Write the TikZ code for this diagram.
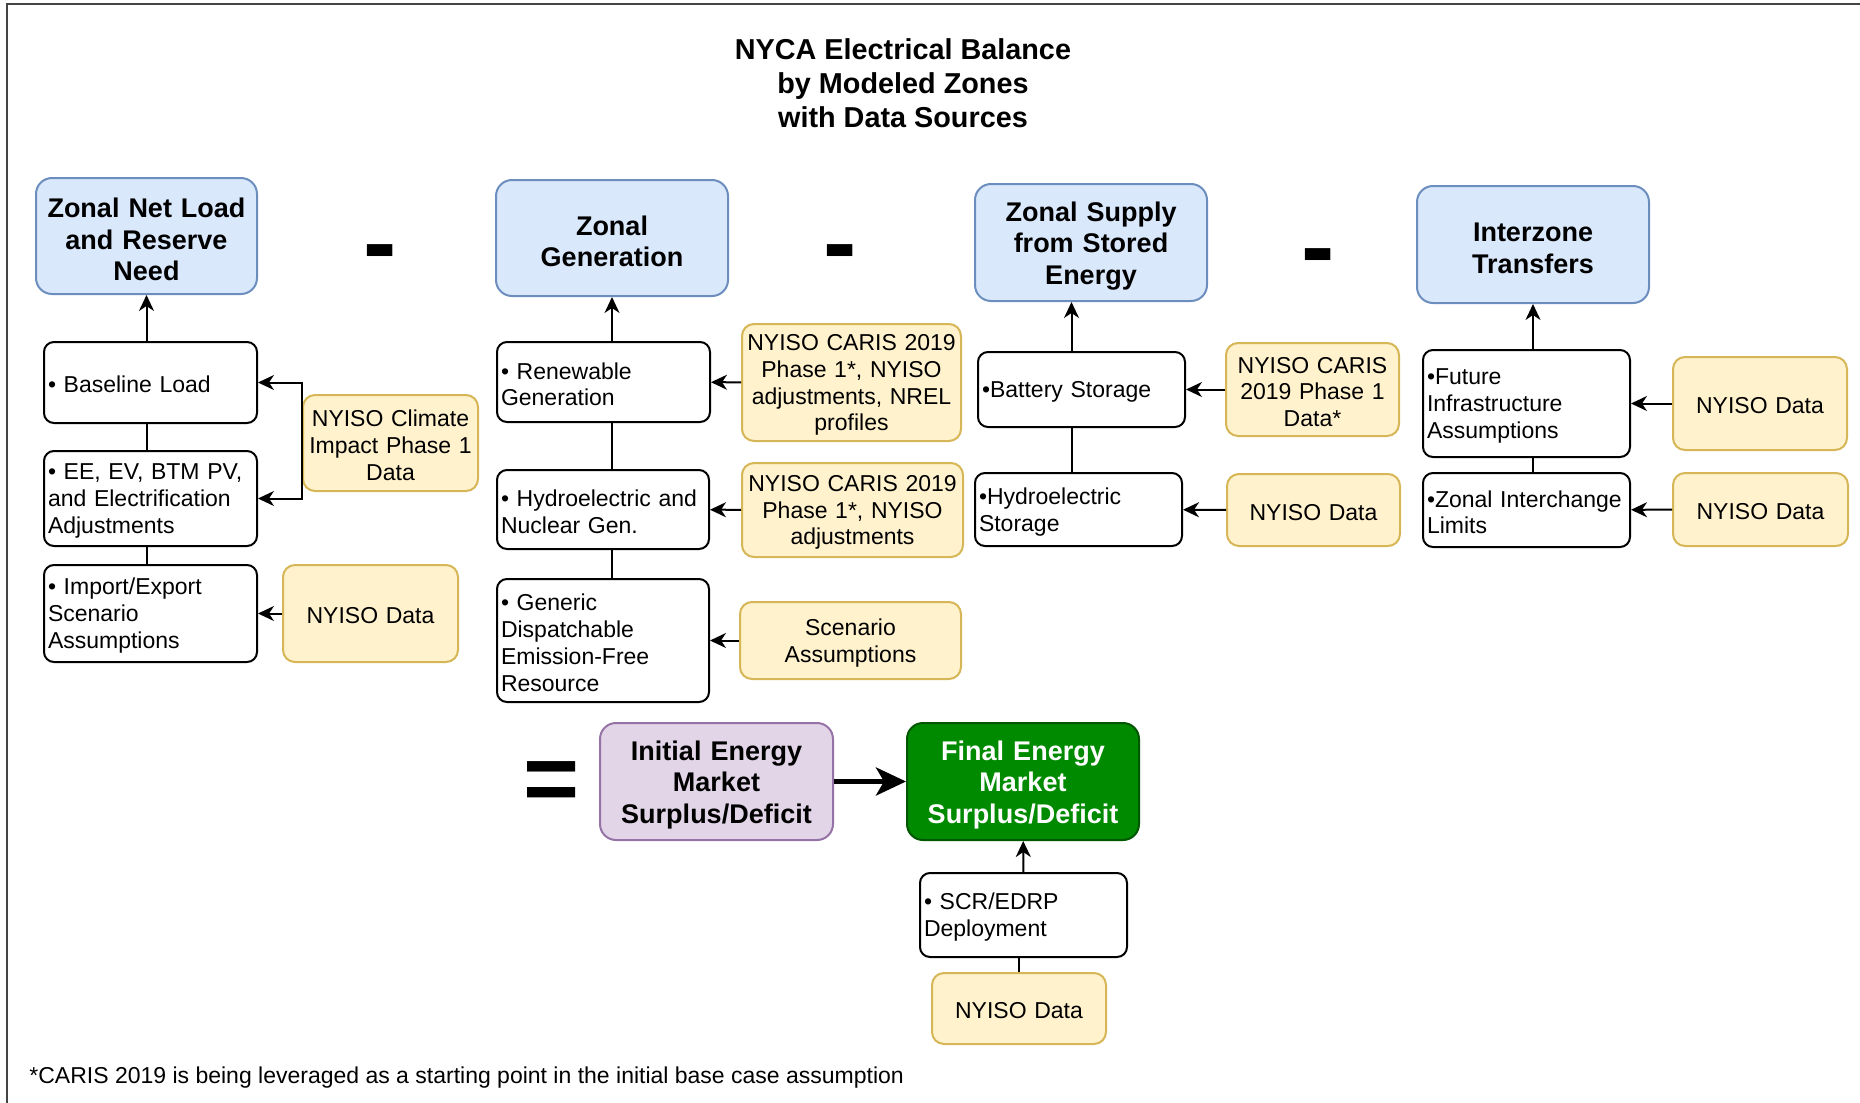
\documentclass[tikz,border=0pt]{standalone}
\usepackage{fontspec}
\setmainfont{Liberation Sans}
\usetikzlibrary{arrows.meta, positioning}
\definecolor{zoneBlue}{RGB}{218, 232, 252}
\definecolor{zoneBlueLine}{RGB}{108, 142, 191}
\definecolor{sourceYellow}{RGB}{255, 242, 204}
\definecolor{sourceYellowLine}{RGB}{214, 182, 86}
\definecolor{initPurple}{RGB}{225, 213, 231}
\definecolor{initPurpleLine}{RGB}{150, 115, 166}
\definecolor{finalGreen}{RGB}{0, 138, 0}
\definecolor{finalGreenLine}{RGB}{0, 87, 0}
\definecolor{frameGray}{RGB}{68, 68, 68}

\begin{document}
\begin{tikzpicture}[x=0.5pt, y=-0.5pt,
    zone/.style={draw=zoneBlueLine, fill=zoneBlue, line width=1pt, rounded corners=8pt, text width=112pt, minimum height=58.5pt, align=center, inner xsep=2pt, font=\fontsize{13.5}{15.8}\selectfont\bfseries, execute at begin node={\rule{0pt}{0.98em}}},
    item/.style={draw=black, fill=white, line width=1pt, rounded corners=5pt, align=left, inner xsep=2pt, inner ysep=2pt, font=\fontsize{11.5}{13.4}\selectfont, execute at begin node={\rule{0pt}{0.92em}}},
    source/.style={draw=sourceYellowLine, fill=sourceYellow, line width=1pt, rounded corners=6pt, text width=83pt, minimum height=36.5pt, align=center, inner xsep=2pt, inner ysep=2pt, font=\fontsize{11.5}{13.4}\selectfont, execute at begin node={\rule{0pt}{0.92em}}},
    sign/.style={anchor=base, inner sep=0pt, font=\fontsize{50}{50}\selectfont\bfseries},
    feed/.style={-{Stealth[length=8pt, width=7.5pt, inset=2.5pt]}, line width=1pt}]
    \useasboundingbox (0,0) rectangle (1860,1103);
    \draw[line width=1.2pt, frameGray] (7,1103) -- (7,4) -- (1860,4);

    % Title
    \node[align=center, font=\fontsize{14.4}{17}\selectfont\bfseries] (title) at (903,83) {NYCA Electrical Balance\\by Modeled Zones\\with Data Sources};

    % Zones
    \node[zone, text width=106.5pt, minimum height=58pt] (netload) at (146.5,236) {Zonal Net Load\\and Reserve\\Need};
    \node[zone, minimum height=58pt] (zonegen) at (612,238) {Zonal\\Generation};
    \node[zone] (supply) at (1091,242.5) {Zonal Supply\\from Stored\\Energy};
    \node[zone] (interzone) at (1533,244.5) {Interzone\\Transfers};

    % Signs between zones
    \node[sign] (minusA) at (380,276.5) {-};
    \node[sign] (minusB) at (840,276.5) {-};
    \node[sign] (minusC) at (1318,280.5) {-};

    % Net load inputs
    \node[item, text width=102.5pt, minimum height=40.5pt] (baseline) at (150.5,382.5) {• Baseline Load};
    \node[item, text width=102.5pt, minimum height=47.5pt] (adjust) at (150.5,498.5) {• EE, EV, BTM PV,\\and Electrification\\Adjustments};
    \node[item, text width=102.5pt, minimum height=48.5pt] (imports) at (150.5,613.5) {• Import/Export\\Scenario\\Assumptions};
    \node[source, text width=83.5pt, minimum height=48pt] (climate) at (390.5,443) {NYISO Climate\\Impact Phase 1\\Data};
    \node[source, text width=83.5pt, minimum height=48.5pt] (dataA) at (370.5,613.5) {NYISO Data};

    % Generation inputs
    \node[item, text width=102.5pt, minimum height=40pt] (renew) at (603.5,382) {• Renewable\\Generation};
    \node[item, text width=102pt, minimum height=39.5pt] (hydnuc) at (603,509.5) {• Hydroelectric and\\Nuclear Gen.};
    \node[item, text width=102pt, minimum height=61.5pt] (generic) at (603,640.5) {• Generic\\Dispatchable\\Emission-Free\\Resource};
    \node[source, text width=105.5pt, minimum height=58.5pt] (carisA) at (851.5,382.5) {NYISO CARIS 2019\\Phase 1*, NYISO\\adjustments, NREL\\profiles};
    \node[source, text width=106.5pt, minimum height=47pt] (carisB) at (852.5,510) {NYISO CARIS 2019\\Phase 1*, NYISO\\adjustments};
    \node[source, text width=106.5pt, minimum height=38.5pt] (scenario) at (850.5,640.5) {Scenario\\Assumptions};

    % Storage inputs
    \node[item, text width=99.5pt, minimum height=37.5pt] (battery) at (1081.5,389.5) {•Battery Storage};
    \node[item, text width=99.5pt, minimum height=36.5pt] (hydstor) at (1078.5,509.5) {•Hydroelectric\\Storage};
    \node[source, text width=82.5pt, minimum height=46.5pt] (carisC) at (1312.5,389.5) {NYISO CARIS\\2019 Phase 1\\Data*};
    \node[source, text width=82.5pt, minimum height=36pt] (dataB) at (1313.5,510) {NYISO Data};

    % Transfer inputs
    \node[item, text width=99.5pt, minimum height=53.5pt] (future) at (1526.5,403.5) {•Future\\Infrastructure\\Assumptions};
    \node[item, text width=99.5pt, minimum height=37pt] (interchange) at (1526.5,510) {•Zonal Interchange\\Limits};
    \node[source, minimum height=46.5pt] (dataC) at (1760,403.5) {NYISO Data};
    \node[source, text width=83.5pt] (dataD) at (1760.5,509.5) {NYISO Data};

    % Result
    \node[sign, font=\fontsize{48}{48}\selectfont\bfseries] (equals) at (552,811.5) {=};
    \node[zone, fill=initPurple, draw=initPurpleLine, text width=112.5pt] (initial) at (716.5,781.5) {Initial Energy\\Market\\Surplus/Deficit};
    \node[zone, fill=finalGreen, draw=finalGreenLine, text=white] (final) at (1023,781.5) {Final Energy\\Market\\Surplus/Deficit};
    \node[item, text width=99.5pt, minimum height=42pt] (scr) at (1023.5,915) {• SCR/EDRP\\Deployment};
    \node[source, minimum height=35.5pt, below=7pt of scr, xshift=-2.25pt] (dataE) {NYISO Data};

    % Footnote
    \node[anchor=west, inner sep=0pt, font=\fontsize{11.5}{13.4}\selectfont] (footnote) at (29,1078) {*CARIS 2019 is being leveraged as a starting point in the initial base case assumption};

    % Arrows
    \draw[feed] (netload.south |- baseline.north) -- (netload.south);
    \draw[line width=1pt] (netload.south |- baseline.south) -- (netload.south |- adjust.north);
    \draw[line width=1pt] (netload.south |- adjust.south) -- (netload.south |- imports.north);
    \draw[feed] (climate.west) |- (baseline.east);
    \draw[feed] (climate.west) |- (adjust.east);
    \draw[feed] (dataA) -- (imports);

    \draw[feed] (zonegen.south |- renew.north) -- (zonegen.south);
    \draw[line width=1pt] (zonegen.south |- renew.south) -- (zonegen.south |- hydnuc.north);
    \draw[line width=1pt] (zonegen.south |- hydnuc.south) -- (zonegen.south |- generic.north);
    \draw[feed] (carisA) -- (renew);
    \draw[feed] (carisB) -- (hydnuc);
    \draw[feed] (scenario) -- (generic);

    \draw[feed] ([xshift=-5pt]battery.north) -- ([xshift=-5pt]battery.north |- supply.south);
    \draw[line width=1pt] ([xshift=-5pt]battery.south) -- ([xshift=-5pt]battery.south |- hydstor.north);
    \draw[feed] (carisC) -- (battery);
    \draw[feed] (dataB) -- (hydstor);

    \draw[feed] (interzone.south |- future.north) -- (interzone.south);
    \draw[line width=1pt] (interzone.south |- future.south) -- (interzone.south |- interchange.north);
    \draw[feed] (dataC) -- (future);
    \draw[feed] (dataD) -- (interchange);

    \draw[line width=2.5pt, -{Stealth[length=15pt, width=14pt, inset=4pt]}] (initial) -- (final);
    \draw[feed] (scr) -- (final);
    \draw[line width=1pt] (dataE.north) -- (dataE.north |- scr.south);
\end{tikzpicture}
\end{document}
